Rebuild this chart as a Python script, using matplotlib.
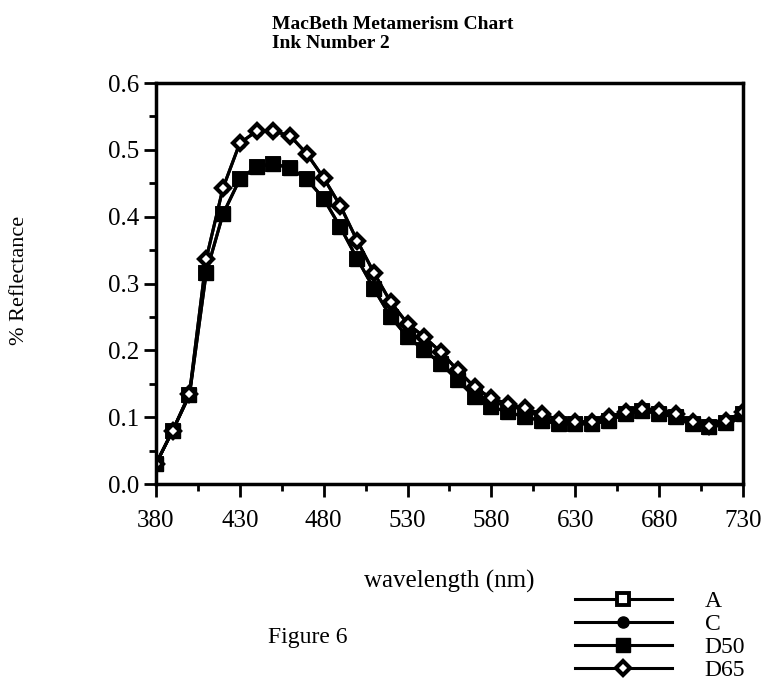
import numpy as np
import matplotlib
matplotlib.use('Agg')
import matplotlib.pyplot as plt

plt.rcParams['font.family'] = ['Liberation Serif', 'DejaVu Serif']

# wavelength grid (nm)
wavelength = list(range(380, 740, 10))

# reflectance values
d65 = [0.030, 0.080, 0.135, 0.337, 0.443, 0.510, 0.528, 0.528, 0.521, 0.494,
       0.458, 0.416, 0.364, 0.316, 0.272, 0.240, 0.220, 0.197, 0.170, 0.145,
       0.128, 0.120, 0.113, 0.105, 0.096, 0.093, 0.093, 0.100, 0.108, 0.112,
       0.110, 0.105, 0.093, 0.087, 0.095, 0.108]
d50 = [0.030, 0.080, 0.133, 0.316, 0.404, 0.456, 0.475, 0.479, 0.473, 0.456,
       0.427, 0.384, 0.337, 0.292, 0.250, 0.220, 0.200, 0.180, 0.155, 0.130,
       0.115, 0.108, 0.100, 0.095, 0.090, 0.090, 0.090, 0.095, 0.105, 0.110,
       0.105, 0.100, 0.090, 0.085, 0.092, 0.105]
illum_a = d50
illum_c = d65

x_major = list(range(380, 731, 50))
x_minor = list(range(405, 731, 50))
y_major = [0.0, 0.1, 0.2, 0.3, 0.4, 0.5, 0.6]
y_minor = [0.05, 0.15, 0.25, 0.35, 0.45, 0.55]

fig = plt.figure(figsize=(7.68, 6.85), dpi=100)
ax = fig.add_axes([0.203, 0.2934, 0.7645, 0.5854])

lw = 2.2
ax.plot(wavelength, illum_a, color='black', lw=lw, marker='s', ms=8,
        mfc='white', mec='black', mew=2.8, label='A')
ax.plot(wavelength, illum_c, color='black', lw=lw, marker='o', ms=8,
        mfc='black', mec='black', label='C')
ax.plot(wavelength, d50, color='black', lw=lw, marker='s', ms=10,
        mfc='black', mec='black', label='D50')
ax.plot(wavelength, d65, color='black', lw=lw, marker='D', ms=7,
        mfc='white', mec='black', mew=3, label='D65')

ax.set_xlim(380, 730)
ax.set_ylim(0, 0.6)
ax.set_xticks(x_major)
ax.set_xticks(x_minor, minor=True)
ax.set_yticks(y_major)
ax.set_yticklabels([f'{v:.1f}' for v in y_major])
ax.set_yticks(y_minor, minor=True)

ax.tick_params(which='major', direction='out', length=9, width=2, labelsize=18)
ax.tick_params(axis='x', which='major', pad=10)
ax.tick_params(axis='y', which='major', pad=3)
ax.tick_params(which='minor', direction='out', length=5, width=2)
for sp in ax.spines.values():
    sp.set_linewidth(2.5)

ax.set_xlabel('wavelength (nm)', fontsize=18, labelpad=27)
fig.text(0.025, 0.59, '% Reflectance', rotation=90, fontsize=16,
         ha='center', va='center')

fig.text(0.354, 0.977, 'MacBeth Metamerism Chart\nInk Number 2',
         fontsize=14, fontweight='bold', ha='left', va='top', linespacing=1.2)

fig.text(0.349, 0.07, 'Figure 6', fontsize=17, ha='left', va='center')

leg = fig.legend(loc='upper left', bbox_to_anchor=(0.733, 0.155),
                 frameon=False, fontsize=17, handlelength=4.1,
                 handletextpad=1.4, labelspacing=0.06, borderpad=0)

fig.savefig('out.png', dpi=100)
